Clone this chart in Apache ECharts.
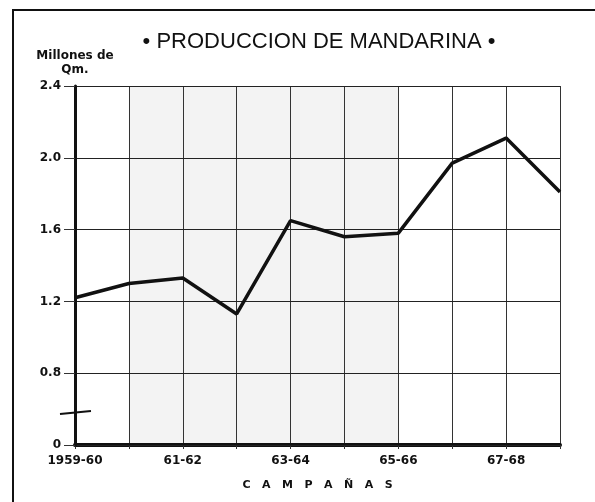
<!DOCTYPE html>
<html>
<head>
<meta charset="utf-8">
<title>Produccion de mandarina</title>
<script src="https://cdn.jsdelivr.net/npm/echarts@6/dist/echarts.min.js"></script>
<style>
  html, body { margin: 0; padding: 0; background: #fff; }
  #main { width: 595px; height: 502px; }
</style>
</head>
<body>
<div id="main"></div>
<script>
// campañas (eje x) y producción en millones de Qm.
const campanas = ['1959-60', '60-61', '61-62', '62-63', '63-64', '64-65', '65-66', '66-67', '67-68', '68-69']
const produccion = [1.22, 1.30, 1.33, 1.13, 1.65, 1.56, 1.58, 1.97, 2.11, 1.81]
// etiquetas del eje y (el tramo 0 - 0.8 va cortado)
const yTickLabels = ['0', '0.8', '1.2', '1.6', '2.0', '2.4']
// franja sombreada
const shadeFrom = '60-61'
const shadeTo = '65-66'

const labelFont = { color: '#111', fontFamily: 'DejaVu Sans', fontWeight: 'bold', fontSize: 12 }

// color de cada intervalo entre campañas (gris dentro de la franja)
let iFrom = campanas.indexOf(shadeFrom)
  , iTo = campanas.indexOf(shadeTo)
  , areaColors = []
for (let i = 0; i < campanas.length - 1; i++) {
  areaColors.push(i >= iFrom && i < iTo ? '#f3f3f3' : '#ffffff')
}

const myChart = echarts.init(document.getElementById('main'))
const option = {
  animation: false,
  backgroundColor: '#fff',
  title: {
    text: '\u2022 PRODUCCION DE MANDARINA \u2022',
    left: 314,
    top: 26,
    textAlign: 'center',
    textStyle: { color: '#111', fontFamily: 'Liberation Sans', fontWeight: 'normal', fontSize: 22 }
  },
  grid: { left: 75, right: 35, top: 86, bottom: 57 },
  xAxis: {
    type: 'category',
    data: campanas,
    boundaryGap: false,
    z: 0,
    name: 'C   A   M   P   A   Ñ   A   S',
    nameLocation: 'middle',
    nameGap: 35,
    nameTextStyle: { color: '#111', fontFamily: 'DejaVu Sans', fontWeight: 'bold', fontSize: 11 },
    axisLine: { lineStyle: { color: '#111', width: 4 } },
    axisTick: { show: true, interval: 0, length: 4, lineStyle: { color: '#333', width: 1 } },
    axisLabel: Object.assign({ interval: 1, margin: 10 }, labelFont),
    splitLine: { show: true, interval: 0, lineStyle: { color: '#333', width: 1 } },
    splitArea: { show: true, interval: 0, areaStyle: { color: areaColors } }
  },
  yAxis: {
    type: 'value',
    min: 0.4,
    max: 2.4,
    interval: 0.4,
    z: 1,
    name: 'Millones de\nQm.',
    nameLocation: 'end',
    nameGap: 9,
    nameTextStyle: { color: '#111', fontFamily: 'DejaVu Sans', fontWeight: 'bold', fontSize: 12, align: 'center', lineHeight: 14 },
    axisLine: { show: true, lineStyle: { color: '#111', width: 3 } },
    axisTick: { show: true, length: 11, lineStyle: { color: '#333', width: 1 } },
    axisLabel: Object.assign({
      margin: 14,
      formatter: (v, i) => yTickLabels[i]
    }, labelFont),
    splitLine: { show: true, lineStyle: { color: '#222', width: 1 } }
  },
  series: [
    {
      type: 'line',
      data: produccion,
      showSymbol: false,
      lineStyle: { color: '#111', width: 3.5 },
      z: 5
    }
  ],
  graphic: [
    // marco exterior
    {
      type: 'rect',
      shape: { x: 13, y: 10, width: 640, height: 540 },
      style: { fill: null, stroke: '#111', lineWidth: 2 },
      silent: true
    },
    // marca de corte del eje y
    {
      type: 'line',
      shape: { x1: 60, y1: 414, x2: 91, y2: 411 },
      style: { stroke: '#111', lineWidth: 2 },
      z: 10
    }
  ]
}
myChart.setOption(option)
</script>
</body>
</html>
